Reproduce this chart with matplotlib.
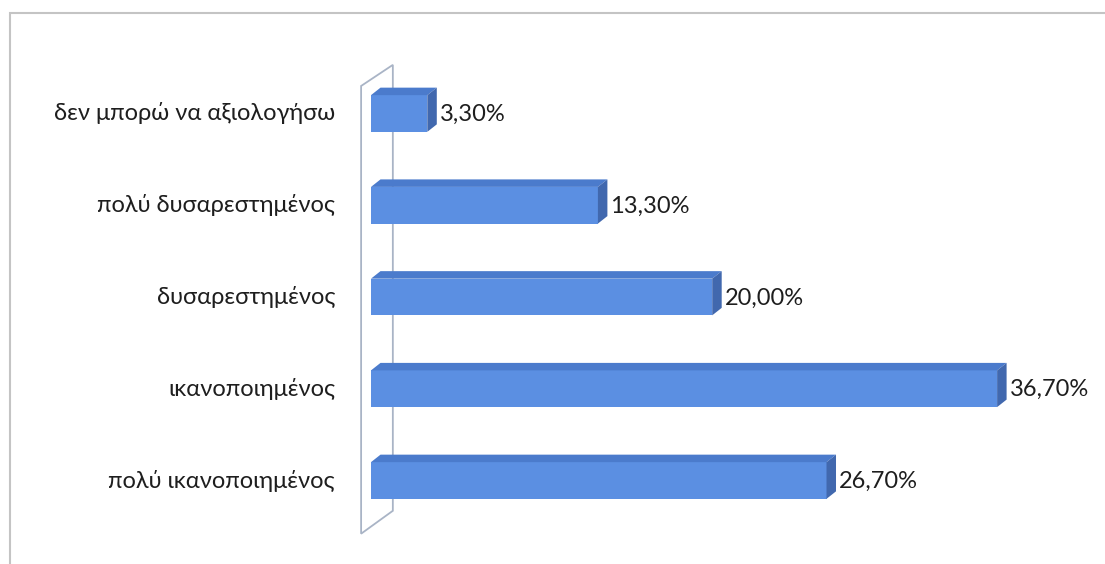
import matplotlib.pyplot as plt
from matplotlib.patches import Polygon, Rectangle

# Data (bottom to top)
categories = ['πολύ ικανοποιημένος', 'ικανοποιημένος', 'δυσαρεστημένος',
              'πολύ δυσαρεστημένος', 'δεν μπορώ να αξιολογήσω']
values = [26.7, 36.7, 20.0, 13.3, 3.3]
labels = ['26,70%', '36,70%', '20,00%', '13,30%', '3,30%']

plt.rcParams['font.family'] = ['Lato', 'DejaVu Sans']

W, H = 1105, 564
fig = plt.figure(figsize=(W / 100, H / 100), dpi=100)
fig.patch.set_facecolor('white')

# outer chart frame
fig.add_artist(Rectangle((10 / W, -0.05), 1.2, (H - 13) / H + 0.05,
                         transform=fig.transFigure, fill=False,
                         edgecolor='#c4c4c4', linewidth=1.5))

# axes placed so that x=0 sits at the bar base
px_per_unit = 17.06
x0_px = 371
xmin, xmax = -2, 42
ymin, ymax = -0.7, 4.7
py_per_unit = 91.75
left = x0_px + xmin * px_per_unit
right = x0_px + xmax * px_per_unit
bottom = 83.5 + ymin * py_per_unit
top = 83.5 + ymax * py_per_unit
ax = fig.add_axes([left / W, bottom / H, (right - left) / W, (top - bottom) / H])
ax.set_xlim(xmin, xmax)
ax.set_ylim(ymin, ymax)
ax.axis('off')

# depth of the 3D effect in data units
dx = 9.5 / px_per_unit
dy = 7.5 / py_per_unit
bh = 0.40

front = '#5b8fe2'
topc = '#4b7bcc'
side = '#4168ae'

# side wall of the 3D chart
wall_x_front = -0.58
wall_x_back = 1.28
ax.add_patch(Polygon([(wall_x_front, -0.58), (wall_x_front, 4.3),
                      (wall_x_back, 4.53), (wall_x_back, -0.33)],
                     closed=True, fill=False, edgecolor='#a9b4c6', linewidth=1.3,
                     clip_on=False))

for i, (v, lab) in enumerate(zip(values, labels)):
    y0 = i - bh / 2
    y1 = i + bh / 2
    ax.barh(i, v, height=bh, left=0, color=front, edgecolor='none', zorder=3)
    ax.add_patch(Polygon([(0, y1), (v, y1), (v + dx, y1 + dy), (dx, y1 + dy)],
                         closed=True, facecolor=topc, edgecolor='none', zorder=3))
    ax.add_patch(Polygon([(v, y0), (v + dx, y0 + dy), (v + dx, y1 + dy), (v, y1)],
                         closed=True, facecolor=side, edgecolor='none', zorder=3))
    ax.text(v + dx + 3 / px_per_unit, i - 0.01, lab, ha='left', va='center',
            fontsize=17, color='#1e1e1e')
    ax.text(-36 / px_per_unit, i, categories[i], ha='right', va='center',
            fontsize=17, color='#1e1e1e', clip_on=False)

fig.savefig('out.png', dpi=100, facecolor='white')
